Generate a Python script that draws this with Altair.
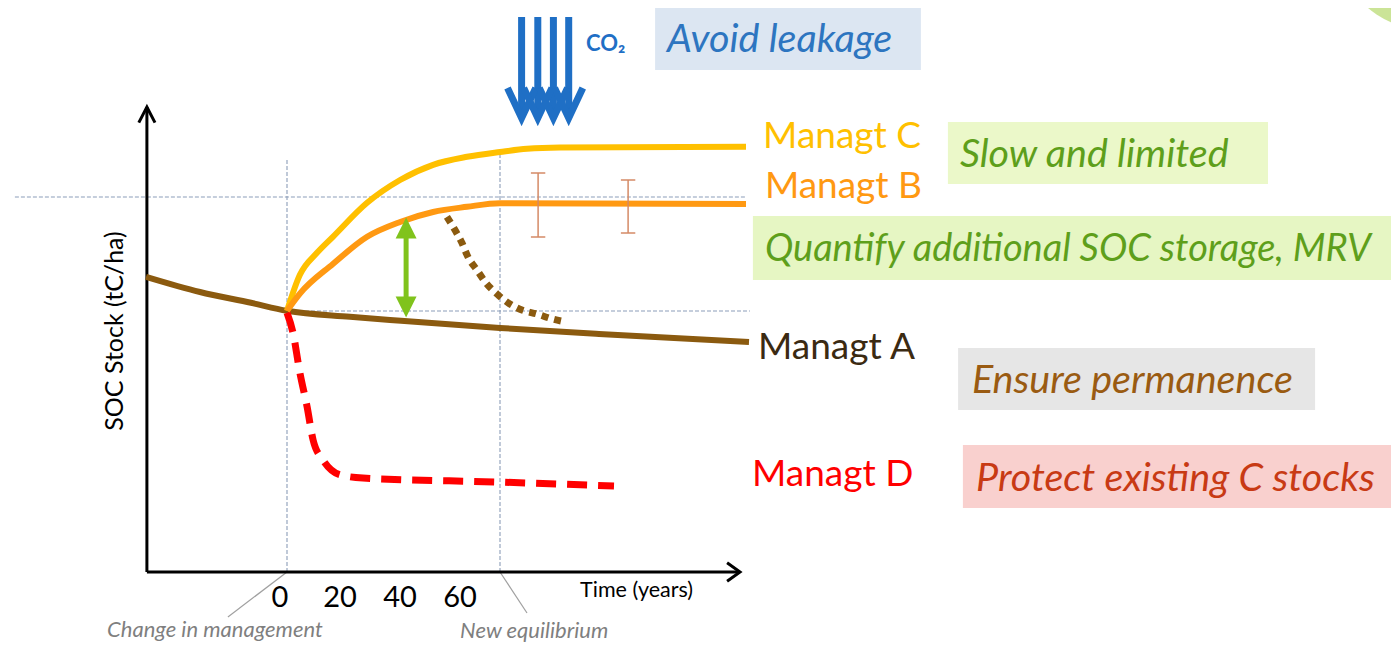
import altair as alt
import pandas as pd

# ---------------- data ----------------
# time in years (0 = change in management), SOC stock in arbitrary tC/ha units
A_t = [-47, -29, -12, 0, 21, 38, 71, 104, 154]
A_soc = [73.8, 70.0, 67.3, 65.3, 63.8, 62.8, 61.0, 59.5, 57.5]

C_t = [0, 4.3, 10, 15.3, 26.7, 37.7, 48.7, 60, 71, 80, 91, 153]
C_soc = [65.3, 74.3, 79.8, 83.8, 92.3, 98.0, 101.8, 103.8, 105.0, 105.8, 106.1, 106.3]

B_t = [0, 4.3, 15.3, 26.7, 37.7, 48.7, 60, 71, 153]
B_soc = [65.3, 69.6, 77.0, 83.8, 87.5, 90.0, 91.3, 92.2, 92.0]

E_t = [53.3, 56, 58.3, 60.3, 63.3, 66.3, 70, 73.7, 78.3, 83.3, 88.3, 93]
E_soc = [88.8, 85.5, 82.3, 78.8, 75.5, 72.3, 69.5, 67.3, 65.5, 64.5, 63.3, 62.5]

D_t = [0, 2, 4.3, 6.7, 8.7, 12, 17.7, 25.3, 70, 109]
D_soc = [64.8, 59.8, 49.8, 41.3, 33.0, 28.0, 24.3, 23.5, 22.5, 21.5]

eb_t = [83.7, 113.7]
eb_lo = [83.75, 84.75]
eb_hi = [99.75, 98.0]

gain_t = [39.7]
gain_lo = [63.75]
gain_hi = [88.5]

co2_t = [78.2, 83.6, 88.8, 93.9]
co2_top = 138.75
co2_tip = 113.5

grid_h_soc = [93.75, 65.25]
grid_h_t0 = [-90.7, 0]
grid_h_t1 = [152.7, 154.3]
grid_v_t = [0, 71]
grid_v_top = [103, 105.5]

axis_x0 = -46.7
axis_x_end = 151
axis_y_end = 116.25

tick_labels = [0, 20, 40, 60]

label_text = ["Managt C", "Managt B", "Managt A", "Managt D"]
label_t = [158.7, 159.3, 157, 155]
label_soc = [108.75, 96.25, 56, 24.25]
label_color = ["#FFC000", "#FF9912", "#3B2A12", "#FF0000"]

msg_text = ["Avoid leakage", "Slow and limited",
            "Quantify additional SOC storage, MRV",
            "Ensure permanence", "Protect existing C stocks"]
msg_t = [126.7, 224.3, 159.3, 228.3, 229.7]
msg_soc = [133, 104.25, 80.5, 47.75, 23.25]
msg_size = [39.5, 39.5, 38, 39.5, 39.5]
msg_color = ["#2D75C0", "#5E9F1B", "#5E9F1B", "#9A5B12", "#C83A14"]
box_t0 = [122.7, 220.3, 155.3, 223.7, 225.3]
box_t1 = [211.3, 327, 368, 342.7, 368]
box_lo = [125.5, 97, 73, 40.5, 16]
box_hi = [141, 112.5, 89, 56, 31.75]
box_fill = ["#DCE6F2", "#EBF8C9", "#E6F6C3", "#E6E6E6", "#F9D0CE"]

note_text = ["Change in management", "New equilibrium"]
note_t = [-60, 57.7]
note_soc = [-16.3, -16.5]
pointer_t0 = [0, 71]
pointer_s0 = [0, 0]
pointer_t1 = [-19.7, 80]
pointer_s1 = [-11.25, -10.25]

# ---------------- scales ----------------
xs = alt.Scale(domain=[-93, 368], nice=False, zero=False)
ys = alt.Scale(domain=[-17.75, 141], nice=False, zero=False)
FONT = "Lato"


def X(f="t"):
    return alt.X(f"{f}:Q", scale=xs, axis=None)


def Y(f="soc"):
    return alt.Y(f"{f}:Q", scale=ys, axis=None)


def curve(t, s, **mark):
    df = pd.DataFrame({"t": t, "soc": s, "i": list(range(len(t)))})
    return alt.Chart(df).mark_line(**mark).encode(x=X(), y=Y(), order="i:Q")


def texts(txt, t, s, colors, baseline="middle", sizes=None, **mark):
    df = pd.DataFrame({"txt": txt, "t": t, "soc": s, "c": colors})
    enc = dict(x=X(), y=Y(), text="txt:N", color=alt.Color("c:N", scale=None))
    if sizes is not None:
        df["fs"] = sizes
        enc["size"] = alt.Size("fs:Q", scale=None)
    return alt.Chart(df).mark_text(font=FONT, baseline=baseline, **mark).encode(**enc)


layers = []

# boxes behind messages
boxes = pd.DataFrame({"t0": box_t0, "t1": box_t1, "lo": box_lo, "hi": box_hi, "f": box_fill})
layers.append(alt.Chart(boxes).mark_rect().encode(
    x=X("t0"), x2="t1:Q", y=Y("lo"), y2="hi:Q", color=alt.Color("f:N", scale=None)))

# logo blob (top right)
layers.append(alt.Chart(pd.DataFrame({"t": [378], "soc": [156]})).mark_point(
    shape="circle", filled=True, size=25600, color="#B9DB74", opacity=0.75).encode(x=X(), y=Y()))

# gridlines
gh = pd.DataFrame({"t0": grid_h_t0, "t1": grid_h_t1, "soc": grid_h_soc})
layers.append(alt.Chart(gh).mark_rule(color="#8C9DB9", strokeWidth=1.1, strokeDash=[4, 2]).encode(
    x=X("t0"), x2="t1:Q", y=Y()))
gv = pd.DataFrame({"t": grid_v_t, "lo": [0, 0], "hi": grid_v_top})
layers.append(alt.Chart(gv).mark_rule(color="#8C9DB9", strokeWidth=1.1, strokeDash=[4, 2]).encode(
    x=X(), y=Y("lo"), y2="hi:Q"))

# pointer lines
pl = pd.DataFrame({"t0": pointer_t0, "t1": pointer_t1, "s0": pointer_s0, "s1": pointer_s1})
layers.append(alt.Chart(pl).mark_rule(color="#A0A0A0", strokeWidth=1.2).encode(
    x=X("t0"), x2="t1:Q", y=Y("s0"), y2="s1:Q"))

# axes with arrows
ax = pd.DataFrame({"t0": [axis_x0, axis_x0], "t1": [axis_x0, axis_x_end],
                   "s0": [0, 0], "s1": [axis_y_end, 0]})
layers.append(alt.Chart(ax).mark_rule(color="black", strokeWidth=3).encode(
    x=X("t0"), x2="t1:Q", y=Y("s0"), y2="s1:Q"))
layers.append(curve([axis_x0 - 2.7, axis_x0, axis_x0 + 2.7],
                    [axis_y_end - 3.9, axis_y_end, axis_y_end - 3.9],
                    color="black", strokeWidth=3, strokeJoin="miter"))
layers.append(curve([axis_x_end - 4.3, axis_x_end, axis_x_end - 4.3], [2.3, 0, -2.3],
                    color="black", strokeWidth=3, strokeJoin="miter"))

# curves
layers.append(curve(A_t, A_soc, color="#8B5A0F", strokeWidth=6, interpolate="monotone"))
layers.append(curve(E_t, E_soc, color="#8B5A0F", strokeWidth=7, strokeDash=[7, 6],
                    interpolate="monotone"))
layers.append(curve(D_t, D_soc, color="#FF0000", strokeWidth=7, strokeDash=[20, 11],
                    interpolate="monotone"))
layers.append(curve(C_t, C_soc, color="#FFC000", strokeWidth=6, interpolate="monotone"))
layers.append(curve(B_t, B_soc, color="#FF9912", strokeWidth=6, interpolate="monotone"))

# error bars
eb = pd.DataFrame({"t": eb_t, "lo": eb_lo, "hi": eb_hi})
eb["c0"] = eb["t"] - 2.4
eb["c1"] = eb["t"] + 2.4
ebc = "#D58A66"
layers.append(alt.Chart(eb).mark_rule(color=ebc, strokeWidth=1.5).encode(x=X(), y=Y("lo"), y2="hi:Q"))
layers.append(alt.Chart(eb).mark_rule(color=ebc, strokeWidth=1.5).encode(x=X("c0"), x2="c1:Q", y=Y("lo")))
layers.append(alt.Chart(eb).mark_rule(color=ebc, strokeWidth=1.5).encode(x=X("c0"), x2="c1:Q", y=Y("hi")))

# green double arrow (additional storage)
ga = pd.DataFrame({"t": gain_t, "lo": gain_lo, "hi": gain_hi})
ga["slo"] = ga["lo"] + 2.5
ga["shi"] = ga["hi"] - 2.5
green = "#80C31C"
layers.append(alt.Chart(ga).mark_rule(color=green, strokeWidth=5).encode(x=X(), y=Y("slo"), y2="shi:Q"))
layers.append(alt.Chart(ga).mark_point(shape="M0,-1L1,1L-1,1Z", filled=True, size=440,
                                       color=green, opacity=1).encode(x=X(), y=Y("shi")))
layers.append(alt.Chart(ga).mark_point(shape="M0,1L1,-1L-1,-1Z", filled=True, size=440,
                                       color=green, opacity=1).encode(x=X(), y=Y("slo")))

# CO2 arrows
blue = "#1F6FC5"
cs = pd.DataFrame({"t": co2_t, "top": [co2_top] * 4, "bot": [co2_tip + 2] * 4})
layers.append(alt.Chart(cs).mark_rule(color=blue, strokeWidth=7).encode(x=X(), y=Y("top"), y2="bot:Q"))
rows = []
for k, t in enumerate(co2_t):
    for j, (dt, ds) in enumerate([(-4.7, 7.5), (0, 0), (4.7, 7.5)]):
        rows.append({"t": t + dt, "soc": co2_tip + ds, "k": k, "i": j})
layers.append(alt.Chart(pd.DataFrame(rows)).mark_line(color=blue, strokeWidth=7, strokeJoin="miter").encode(
    x=X(), y=Y(), detail="k:N", order="i:Q"))

# texts
layers.append(texts(label_text, label_t, label_soc, label_color, align="left", fontSize=37))
layers.append(texts(msg_text, msg_t, msg_soc, msg_color, sizes=msg_size, align="left",
                    fontStyle="italic"))
layers.append(texts(["CO₂"], [99.7], [132], [blue], align="left", fontSize=22, fontWeight="bold"))
layers.append(texts([str(v) for v in tick_labels], tick_labels, [-6.5] * 4, ["black"] * 4,
                    align="center", fontSize=29, dx=-7))
layers.append(texts(["Time (years)"], [97.7], [-4.75], ["black"], align="left", fontSize=21.5))
layers.append(texts(["SOC Stock (tC/ha)"], [-57.3], [60.25], ["black"], align="center",
                    fontSize=25, angle=270))
layers.append(texts(note_text, note_t, note_soc, ["#7F7F7F"] * 2, baseline="alphabetic",
                    align="left", fontSize=22, fontStyle="italic"))

chart = alt.layer(*layers).properties(
    width=1383, height=635, autosize="none", padding=0, background="white"
).configure_view(stroke=None)

chart.save("out.html", embed_options={"renderer": "svg", "actions": False})
